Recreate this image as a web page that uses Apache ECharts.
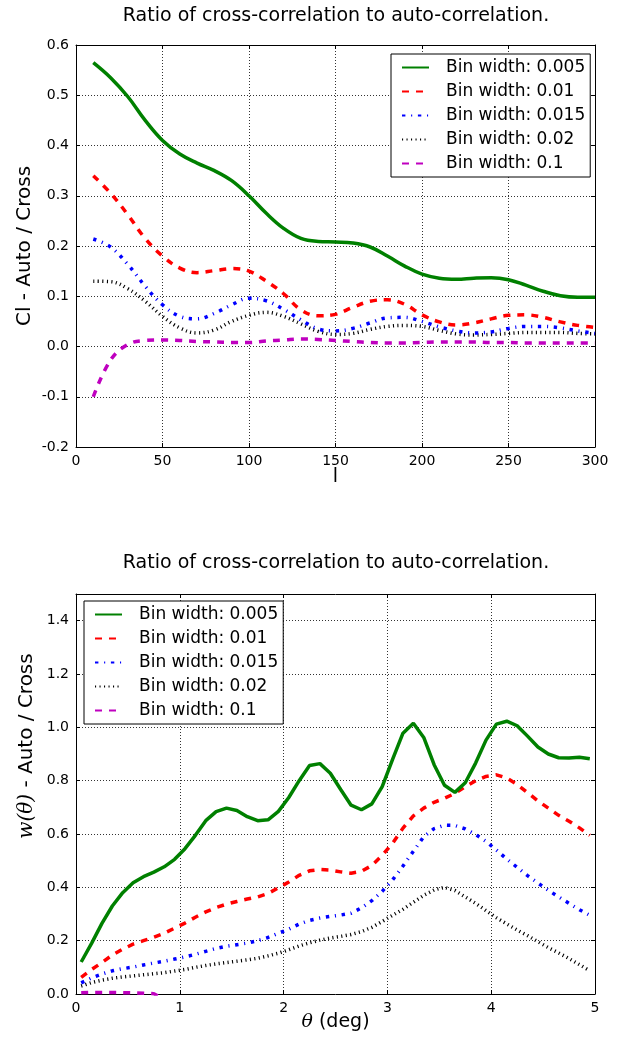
<!DOCTYPE html>
<html><head><meta charset="utf-8">
<script src="https://cdn.jsdelivr.net/npm/echarts/dist/echarts.min.js"></script>
<style>html,body{margin:0;padding:0;background:#fff}#c{width:632px;height:1040px}</style>
</head><body><div id="c"></div>
<script>
// ---------- data ----------
const seriesNames = ['Bin width: 0.005','Bin width: 0.01','Bin width: 0.015','Bin width: 0.02','Bin width: 0.1'];

// top panel: multipole l
const xTop = [10,20,30,40,50,60,70,80,90,100,110,120,130,140,150,160,170,180,190,200,210,220,230,240,250,260,270,280,290,300];
const topBin0005 = [0.565,0.535,0.497,0.450,0.410,0.383,0.365,0.350,0.330,0.300,0.265,0.235,0.215,0.209,0.208,0.206,0.198,0.180,0.160,0.144,0.136,0.134,0.136,0.137,0.133,0.122,0.110,0.101,0.098,0.098];
const topBin001  = [0.340,0.305,0.262,0.215,0.180,0.156,0.147,0.151,0.155,0.150,0.130,0.105,0.073,0.061,0.064,0.078,0.090,0.093,0.084,0.063,0.049,0.043,0.047,0.055,0.062,0.063,0.058,0.049,0.042,0.038];
const topBin0015 = [0.214,0.198,0.163,0.120,0.083,0.060,0.055,0.066,0.083,0.096,0.091,0.074,0.053,0.035,0.031,0.036,0.047,0.057,0.058,0.050,0.039,0.031,0.027,0.029,0.036,0.040,0.040,0.037,0.031,0.026];
const topBin002  = [0.130,0.129,0.115,0.090,0.060,0.037,0.027,0.033,0.050,0.062,0.068,0.060,0.045,0.030,0.024,0.026,0.034,0.040,0.042,0.040,0.032,0.025,0.023,0.024,0.026,0.028,0.028,0.028,0.026,0.025];
const topBin01   = [-0.100,-0.027,0.004,0.012,0.013,0.012,0.010,0.009,0.008,0.008,0.011,0.013,0.015,0.014,0.012,0.010,0.008,0.007,0.007,0.008,0.009,0.009,0.009,0.008,0.008,0.007,0.007,0.007,0.007,0.007];

// bottom panel: theta (deg)
const xBottom = [0.05,0.15,0.25,0.35,0.45,0.55,0.65,0.75,0.85,0.95,1.05,1.15,1.25,1.35,1.45,1.55,1.65,1.75,1.85,1.95,2.05,2.15,2.25,2.35,2.45,2.55,2.65,2.75,2.85,2.95,3.05,3.15,3.25,3.35,3.45,3.55,3.65,3.75,3.85,3.95,4.05,4.15,4.25,4.35,4.45,4.55,4.65,4.75,4.85,4.95];
const botBin0005 = [0.120,0.190,0.265,0.330,0.380,0.417,0.440,0.457,0.477,0.505,0.545,0.595,0.650,0.684,0.697,0.688,0.665,0.650,0.653,0.685,0.737,0.800,0.857,0.864,0.828,0.767,0.708,0.691,0.713,0.778,0.880,0.978,1.015,0.962,0.860,0.783,0.756,0.792,0.866,0.952,1.012,1.023,1.006,0.967,0.926,0.900,0.886,0.885,0.888,0.882];
const botBin001  = [0.062,0.092,0.118,0.146,0.168,0.187,0.200,0.213,0.228,0.247,0.266,0.288,0.308,0.324,0.337,0.347,0.356,0.364,0.377,0.398,0.420,0.445,0.462,0.467,0.465,0.458,0.453,0.460,0.482,0.520,0.565,0.622,0.668,0.697,0.719,0.734,0.752,0.777,0.800,0.816,0.822,0.810,0.786,0.755,0.724,0.697,0.670,0.648,0.623,0.595];
const botBin0015 = [0.042,0.060,0.075,0.087,0.095,0.101,0.109,0.116,0.123,0.131,0.139,0.149,0.160,0.171,0.179,0.185,0.191,0.200,0.212,0.228,0.243,0.262,0.276,0.285,0.291,0.296,0.303,0.323,0.350,0.385,0.428,0.480,0.535,0.590,0.620,0.633,0.632,0.619,0.598,0.572,0.540,0.506,0.475,0.444,0.416,0.389,0.364,0.340,0.316,0.295];
const botBin002  = [0.030,0.043,0.052,0.059,0.064,0.068,0.072,0.076,0.080,0.086,0.092,0.100,0.107,0.113,0.118,0.123,0.128,0.134,0.143,0.153,0.166,0.180,0.192,0.202,0.210,0.216,0.223,0.234,0.250,0.272,0.295,0.318,0.344,0.370,0.390,0.400,0.388,0.364,0.340,0.313,0.286,0.263,0.240,0.219,0.196,0.174,0.154,0.133,0.110,0.087];
const botBin01   = [0.005,0.006,0.006,0.006,0.005,0.004,0.003,0.001,-0.02,-0.03,-0.03,-0.03,-0.03,-0.03,-0.03,-0.03,-0.03,-0.03,-0.03,-0.03,-0.03,-0.03,-0.03,-0.03,-0.03,-0.03,-0.03,-0.03,-0.03,-0.03,-0.03,-0.03,-0.03,-0.03,-0.03,-0.03,-0.03,-0.03,-0.03,-0.03,-0.03,-0.03,-0.03,-0.03,-0.03,-0.03,-0.03,-0.03,-0.03,-0.03];

const titleText = 'Ratio of cross-correlation to auto-correlation.';

// ---------- styles ----------
const colors = ['#008000','#ff0000','#0000ff','#000000','#bf00bf'];
const dashes = ['solid',[7,7],[3.4,5.7,1.1,5.7],[1.1,3.4],[7,7]];
const FONT = 'DejaVu Sans';

const topData = [topBin0005, topBin001, topBin0015, topBin002, topBin01];
const botData = [botBin0005, botBin001, botBin0015, botBin002, botBin01];

function mkSeries(xs, ys, i, gi, smooth) {
  return {
    name: seriesNames[i], type: 'line', xAxisIndex: gi*2, yAxisIndex: gi*2,
    data: xs.map((x, k) => [x, ys[k]]),
    symbol: 'none', showSymbol: false, smooth: smooth, clip: true,
    lineStyle: {color: colors[i], width: 3.5, type: dashes[i], cap: 'butt'},
    itemStyle: {color: colors[i]},
    z: 10 - i, animation: false
  };
}
const series = [];
for (let i = 0; i < 5; i++) series.push(mkSeries(xTop, topData[i], i, 0, 0.4));
for (let i = 0; i < 5; i++) series.push(mkSeries(xBottom, botData[i], i, 1, false));

const gridLine = {show: true, lineStyle: {color: '#333', width: 1, type: [1, 2]}};
const axLine = {show: true, onZero: false, lineStyle: {color: '#000', width: 1}};
const tick = {show: true, inside: true, length: 4, lineStyle: {color: '#000', width: 1}};
const lab = {color: '#000', fontFamily: FONT, fontSize: 14};
function nameStyle(size, pad) {
  return {color: '#000', fontFamily: FONT, fontSize: size, padding: pad,
    rich: {i: {fontFamily: 'DejaVu Serif', fontStyle: 'italic', fontSize: size, color: '#000'}}};
}

function mainX(gi, min, max, interval, name, gap) {
  return {type: 'value', gridIndex: gi, min, max, interval, position: 'bottom',
    axisLine: axLine, axisTick: tick, splitLine: gridLine,
    axisLabel: Object.assign({margin: 7, formatter: v => String(v)}, lab),
    name, nameLocation: 'middle', nameGap: gap, nameMoveOverlap: false, nameTextStyle: nameStyle(19, 0)};
}
function oppX(gi, min, max, interval) {
  return {type: 'value', gridIndex: gi, min, max, interval, position: 'top',
    axisLine: axLine, axisTick: tick, splitLine: {show: false}, axisLabel: {show: false}};
}
function mainY(gi, min, max, interval, name, gap, size, pad) {
  return {type: 'value', gridIndex: gi, min, max, interval, position: 'left',
    axisLine: axLine, axisTick: tick, splitLine: gridLine,
    axisLabel: Object.assign({margin: 7, showMaxLabel: max === 1.5 ? false : true, formatter: v => v.toFixed(1)}, lab),
    name, nameLocation: 'middle', nameGap: gap, nameRotate: 90, nameMoveOverlap: false, nameTextStyle: nameStyle(size, pad)};
}
function oppY(gi, min, max, interval) {
  return {type: 'value', gridIndex: gi, min, max, interval, position: 'right',
    axisLine: axLine, axisTick: tick, splitLine: {show: false}, axisLabel: {show: false}};
}

function mkLegend(left, top) {
  return {orient: 'vertical', left, top, itemWidth: 27, itemHeight: 16, itemGap: 7,
    padding: [5, 5, 5, 10], borderColor: '#000', borderWidth: 1, backgroundColor: '#fff',
    itemStyle: {opacity: 0},
    textStyle: {fontFamily: FONT, fontSize: 17, color: '#000', padding: [0, 0, 0, 12]},
    data: seriesNames, selectedMode: false, z: 20};
}

const option = {
  animation: false,
  backgroundColor: '#fff',
  title: [
    {text: titleText, left: 331, textAlign: 'center', top: 2, textStyle: {fontFamily: FONT, fontSize: 19, fontWeight: 'normal', color: '#000'}},
    {text: titleText, left: 331, textAlign: 'center', top: 549, textStyle: {fontFamily: FONT, fontSize: 19, fontWeight: 'normal', color: '#000'}}
  ],
  grid: [
    {left: 76, top: 45, width: 519, height: 402, containLabel: false},
    {left: 76, top: 594, width: 519, height: 400, containLabel: false}
  ],
  xAxis: [
    mainX(0, 0, 300, 50, 'l', 21), oppX(0, 0, 300, 50),
    mainX(1, 0, 5, 1, '{i|θ} (deg)', 19), oppX(1, 0, 5, 1)
  ],
  yAxis: [
    mainY(0, -0.2, 0.6, 0.1, 'Cl - Auto / Cross', 41, 20, 0), oppY(0, -0.2, 0.6, 0.1),
    mainY(1, 0, 1.5, 0.2, '{i|w(θ)} - Auto / Cross', 39, 20, [0, 0, 0, 96]), oppY(1, 0, 1.5, 0.2)
  ],
  legend: [mkLegend(391, 54), mkLegend(84, 601)],
  series
};
const chart = echarts.init(document.getElementById('c'), null, {renderer: 'canvas'});
chart.setOption(option);
</script>
</body></html>
